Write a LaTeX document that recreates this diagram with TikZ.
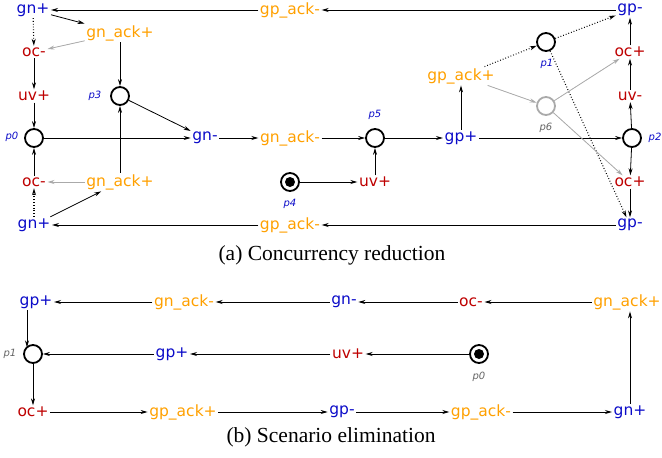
\documentclass[tikz,border=0pt]{standalone}
\usepackage{fontspec}
\setmainfont{Liberation Serif}
\newfontfamily\labfont{DejaVu Sans}
\usetikzlibrary{arrows.meta}
\definecolor{sigblue}{RGB}{10,10,200}
\definecolor{sigred}{RGB}{190,0,0}
\definecolor{sigorange}{RGB}{255,160,0}
\definecolor{lightarc}{RGB}{170,170,170}
\definecolor{plabgray}{RGB}{100,100,100}
\begin{document}
\begin{tikzpicture}[x=1pt,y=-1pt,
  lbl/.style={font=\labfont\fontsize{15.5}{17}\selectfont, inner sep=1.5pt},
  bsig/.style={lbl,text=sigblue},
  rsig/.style={lbl,text=sigred},
  osig/.style={lbl,text=sigorange},
  place/.style={circle,draw,line width=1.8pt,minimum size=18pt,inner sep=0pt},
  gplace/.style={place,draw=lightarc},
  tok/.style={place,path picture={\fill (path picture bounding box.center) circle (5pt);}},
  plab/.style={font=\labfont\fontsize{10}{11}\selectfont\itshape,text=sigblue,inner sep=0pt},
  gplab/.style={plab,text=plabgray},
  arr/.style={-{Stealth[length=7pt,width=4pt]},line width=0.8pt},
  garr/.style={arr,draw=lightarc,fill=lightarc},
  darr/.style={arr,dotted,line width=1.1pt},
  captext/.style={font=\fontsize{21.5}{24}\selectfont,inner sep=0pt}
]
\useasboundingbox (0,0) rectangle (662,458);

% ---------------- (a) ----------------
\node[bsig] (agnT) at (33,10) {gn+};
\node[osig] (agpackT) at (290,10) {gp\_ack-};
\node[bsig] (agpT) at (630,10) {gp-};
\node[osig] (agnackT) at (120,33) {gn\_ack+};
\node[rsig] (aocT) at (34,52) {oc-};
\node[rsig] (auvL) at (34,96) {uv+};
\node[place] (ap0) at (34,138) {};
\node[place] (ap3) at (120,96) {};
\node[bsig] (agnm) at (205,138) {gn-};
\node[rsig] (aocB) at (34,182) {oc-};
\node[osig] (agnackB) at (120,182) {gn\_ack+};
\node[bsig] (agnB) at (34,225) {gn+};
\node[osig] (agnackm) at (290,138) {gn\_ack-};
\node[place] (ap5) at (375,138) {};
\node[tok] (ap4) at (290,182) {};
\node[rsig] (auvm) at (375,182) {uv+};
\node[osig] (agpackB) at (290,225) {gp\_ack-};
\node[bsig] (agpB) at (630,225) {gp-};
\node[bsig] (agpp) at (461,138) {gp+};
\node[osig] (agpack) at (461,76) {gp\_ack+};
\node[place] (ap1) at (546,42) {};
\node[gplace] (ap6) at (546,106) {};
\node[place] (ap2) at (632,138) {};
\node[rsig] (aocR1) at (630,52) {oc+};
\node[rsig] (auvR) at (630,96) {uv-};
\node[rsig] (aocR2) at (630,182) {oc+};

\node[plab] (lp0) at (12,137) {p0};
\node[plab] (lp3) at (95,96) {p3};
\node[plab] (lp5) at (375,115) {p5};
\node[plab] (lp4) at (290,204) {p4};
\node[plab] (lp1) at (547,64) {p1};
\node[gplab] (lp6) at (546,128) {p6};
\node[plab] (lp2) at (655,138) {p2};

\draw[arr] (agpT) -- (agpackT);
\draw[arr] (agpackT) -- (agnT);
\draw[arr] (agnT) -- (agnackT);
\draw[darr] (agnT) -- (aocT);
\draw[garr] (agnackT) -- (aocT);
\draw[arr] (aocT) -- (auvL);
\draw[arr] (auvL) -- (ap0);
\draw[arr] (agnackT) -- (ap3);
\draw[arr] (ap3) -- (agnm);
\draw[arr] (ap0) -- (agnm);
\draw[arr] (agnackB) -- (ap3);
\draw[garr] (agnackB) -- (aocB);
\draw[arr] (aocB) -- (ap0);
\draw[darr] (agnB) -- (aocB);
\draw[arr] (agnB) -- (agnackB);
\draw[arr] (agpB) -- (agpackB);
\draw[arr] (agpackB) -- (agnB);
\draw[arr] (agnm) -- (agnackm);
\draw[arr] (agnackm) -- (ap5);
\draw[arr] (ap5) -- (agpp);
\draw[arr] (ap4) -- (auvm);
\draw[arr] (auvm) -- (ap5);
\draw[arr] (agpp) -- (agpack);
\draw[arr] (agpp) -- (ap2);
\draw[darr] (agpack) -- (ap1);
\draw[garr] (agpack) -- (ap6);
\draw[darr] (ap1) -- (agpT);
\draw[darr] (ap1) -- (agpB);
\draw[garr] (ap6) -- (aocR1);
\draw[garr] (ap6) -- (aocR2);
\draw[arr] (ap2) -- (auvR);
\draw[arr] (auvR) -- (aocR1);
\draw[arr] (aocR1) -- (agpT);
\draw[arr] (ap2) -- (aocR2);
\draw[arr] (aocR2) -- (agpB);

\node[captext] (capa) at (332,255) {(a) Concurrency reduction};

% ---------------- (b) ----------------
\node[bsig] (bgpT) at (36,302) {gp+};
\node[osig] (bgnack) at (184,302) {gn\_ack-};
\node[bsig] (bgn) at (344,302) {gn-};
\node[rsig] (boc) at (471,302) {oc-};
\node[osig] (bgnackp) at (627,302) {gn\_ack+};
\node[place] (bp1) at (33,354) {};
\node[bsig] (bgpm) at (172,354) {gp+};
\node[rsig] (buv) at (348,354) {uv+};
\node[tok] (bp0) at (479,354) {};
\node[rsig] (bocp) at (33,412) {oc+};
\node[osig] (bgpackp) at (183,412) {gp\_ack+};
\node[bsig] (bgpmi) at (342,412) {gp-};
\node[osig] (bgpackm) at (481,412) {gp\_ack-};
\node[bsig] (bgnp) at (630,412) {gn+};

\node[gplab] (lbp1) at (10,354) {p1};
\node[gplab] (lbp0) at (479,377) {p0};

\draw[arr] (bgnackp) -- (boc);
\draw[arr] (boc) -- (bgn);
\draw[arr] (bgn) -- (bgnack);
\draw[arr] (bgnack) -- (bgpT);
\draw[arr] ([xshift=-9pt]bgpT.south) -- ([xshift=-6pt,yshift=6.7pt]bp1.center);
\draw[arr] (bp0) -- (buv);
\draw[arr] (buv) -- (bgpm);
\draw[arr] (bgpm) -- (bp1);
\draw[arr] (bp1) -- (bocp);
\draw[arr] (bocp) -- (bgpackp);
\draw[arr] (bgpackp) -- (bgpmi);
\draw[arr] (bgpmi) -- (bgpackm);
\draw[arr] (bgpackm) -- (bgnp);
\draw[arr] (bgnp) -- (bgnp |- bgnackp.south);

\node[captext] (capb) at (331,437) {(b) Scenario elimination};
\end{tikzpicture}
\end{document}
